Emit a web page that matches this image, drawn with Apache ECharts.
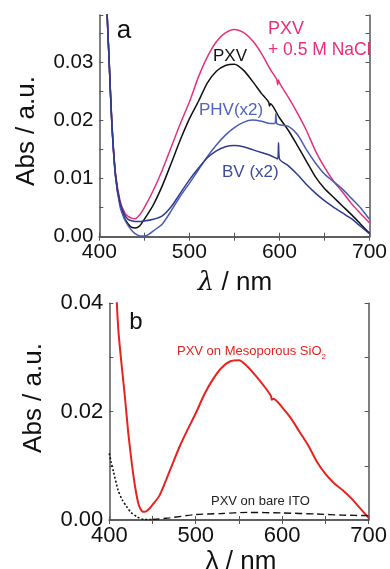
<!DOCTYPE html>
<html><head><meta charset="utf-8">
<script src="https://cdn.jsdelivr.net/npm/echarts@6/dist/echarts.min.js"></script>
<style>html,body{margin:0;padding:0;background:#fff}#c{width:390px;height:569px}</style>
</head><body><div id="c"></div>
<script>
// Panel a
const pxvNaClWl = [404,408,411,414,418,423,428,432,436,440,445,450,460,470,480,490,500,510,520,530,540,550,560,570,580,590,597,598,599,600,610,620,630,640,650,660,670,680,690,700];
const pxvNaClAbs = [0.06,0.041,0.030,0.0195,0.011,0.0062,0.0042,0.0035,0.0032,0.0031,0.0038,0.005,0.008,0.0115,0.0155,0.0195,0.0232,0.0275,0.031,0.0336,0.0351,0.0357,0.0352,0.0338,0.0316,0.0288,0.0271,0.0262,0.027,0.0265,0.024,0.0213,0.0183,0.0148,0.012,0.0096,0.0077,0.0057,0.004,0.0024];
const pxvWl = [404,408,411,414,418,423,428,432,436,440,445,450,460,470,480,490,500,510,520,530,540,550,560,570,580,588,589,590,600,610,620,630,640,650,660,670,680,690,700];
const pxvAbs = [0.06,0.041,0.030,0.0195,0.0105,0.0056,0.0032,0.0022,0.0016,0.0015,0.0019,0.003,0.0055,0.0088,0.0127,0.0167,0.0203,0.0233,0.0265,0.0285,0.0295,0.0297,0.0287,0.0268,0.0247,0.0232,0.0225,0.0229,0.0205,0.0183,0.0157,0.013,0.0103,0.0083,0.0068,0.0053,0.0038,0.0022,0.0006];
const phvWl = [404,408,411,414,418,423,428,432,437,442,446,450,455,460,470,480,490,500,510,520,530,540,550,560,570,580,590,595,596,597,600,610,620,630,640,650,660,670,680,690,700];
const phvAbs = [0.06,0.041,0.030,0.0192,0.0103,0.0052,0.003,0.0019,0.0009,0.0003,0.0001,0.0001,0.0004,0.001,0.0022,0.0045,0.007,0.0092,0.0115,0.0138,0.0158,0.0175,0.0188,0.0197,0.0201,0.0199,0.0195,0.0195,0.0212,0.0195,0.0193,0.019,0.0176,0.015,0.0127,0.0108,0.0095,0.0082,0.0066,0.005,0.003];
const bvWl = [404,408,411,414,418,423,428,432,437,442,450,460,470,480,490,500,510,520,530,540,550,560,570,580,590,598,599,600,610,620,630,640,650,660,670,680,690,700];
const bvAbs = [0.06,0.041,0.030,0.0192,0.0106,0.0058,0.0038,0.003,0.0027,0.0026,0.0027,0.003,0.0036,0.0052,0.0075,0.0098,0.0118,0.0136,0.0148,0.0155,0.0157,0.0155,0.015,0.0145,0.014,0.0134,0.0162,0.0134,0.0122,0.0107,0.009,0.0075,0.0062,0.0051,0.0041,0.0031,0.0018,0.0005];
// Panel b
const mesoWl = [405,408.5,410.5,414,418,422,426,430,434,438,441,445,450,458,466,474,482,490,500,510,520,530,540,550,560,570,580,587,588,590,600,610,620,630,640,650,660,670,680,690,700];
const mesoAbs = [0.06,0.041,0.035,0.029,0.0228,0.016,0.0105,0.006,0.0028,0.0016,0.0015,0.0019,0.0028,0.0045,0.0075,0.0107,0.0138,0.0165,0.0197,0.0232,0.026,0.0281,0.0293,0.0295,0.0283,0.0265,0.0245,0.0229,0.0222,0.0224,0.0208,0.0188,0.0163,0.0138,0.0108,0.0085,0.0068,0.0055,0.004,0.0022,0.0004];
const itoDotWl = [400,402,405,410,415,420,425,432,440,450];
const itoDotAbs = [0.0123,0.0108,0.0088,0.0056,0.0037,0.0025,0.0014,0.0006,0.0001,0.0001];
const itoDashWl = [450,470,500,530,560,600,640,670,700];
const itoDashAbs = [0.0001,0.0004,0.001,0.0012,0.0014,0.0013,0.0011,0.0009,0.0008];

const xTicks = [400,500,600,700];
const yTicksA = ['0.00','0.01','0.02','0.03'];
const yTicksB = ['0.00','0.02','0.04'];

const pair = (xs, ys) => xs.map((x,i)=>[x, ys[i]]);
const FONT = 'Liberation Sans';
const frame = {lineStyle:{color:'#555', width:1.5}};

function xAx(grid, pos, showLabels, fs) {
  return {type:'value', gridIndex:grid, position:pos, min:400, max:700, interval:50,
    axisLine:{show:true, ...frame}, splitLine:{show:false},
    axisTick:{show:true, inside:true, length:4, lineStyle:{color:'#555', width:1}},
    axisLabel:{show:showLabels, fontFamily:FONT, fontSize:fs, color:'#111', margin:5,
      formatter: v => xTicks.includes(Math.round(v)) ? String(Math.round(v)) : ''}};
}
function yAx(grid, pos, max, step, showLabels, labels, fs) {
  return {type:'value', gridIndex:grid, position:pos, min:0, max:max, interval:step,
    axisLine:{show:true, ...frame}, splitLine:{show:false},
    axisTick:{show:true, inside:true, length:4, lineStyle:{color:'#555', width:1}},
    axisLabel:{show:showLabels, fontFamily:FONT, fontSize:fs, color:'#111', margin:6,
      showMaxLabel:true,
      formatter: v => { const s = v.toFixed(2); return (labels.includes(s) && Math.abs(v - parseFloat(s)) < 1e-6) ? s : ''; }}};
}
const line = (name, data, color, xi, yi, w, dash) => ({
  name, type:'line', data, xAxisIndex:xi, yAxisIndex:yi, showSymbol:false, symbol:'none',
  smooth:0.25, clip:true, lineStyle:{color, width:w, type: dash || 'solid'}, z:3});

const chart = echarts.init(document.getElementById('c'), null, {renderer:'canvas'});
chart.setOption({
  animation:false,
  grid:[
    {left:99.3, right:17.7, top:15, height:221.7},
    {left:109.3, right:21, top:303.3, height:216.7}
  ],
  xAxis:[ xAx(0,'bottom',true,21), xAx(0,'top',false,21), xAx(1,'bottom',true,22), xAx(1,'top',false,22) ],
  yAxis:[ yAx(0,'left',0.0382,0.005,true,yTicksA,20.5), yAx(0,'right',0.0382,0.005,false,yTicksA,20),
          yAx(1,'left',0.04,0.01,true,yTicksB,22), yAx(1,'right',0.04,0.01,false,yTicksB,22) ],
  series:[
    line('PXV + 0.5 M NaCl', pair(pxvNaClWl, pxvNaClAbs), '#e8307a', 0, 0, 1.5),
    line('PXV', pair(pxvWl, pxvAbs), '#111111', 0, 0, 1.5),
    line('PHV(x2)', pair(phvWl, phvAbs), '#4a5cb4', 0, 0, 1.5),
    line('BV (x2)', pair(bvWl, bvAbs), '#2f3b8f', 0, 0, 1.5),
    line('PXV on Mesoporous SiO2', pair(mesoWl, mesoAbs), '#e8231f', 2, 2, 2),
    line('PXV on bare ITO', pair(itoDotWl, itoDotAbs), '#111111', 2, 2, 1.6, [2,2]),
    line('PXV on bare ITO ', pair(itoDashWl, itoDashAbs), '#111111', 2, 2, 1.4, [7,4])
  ],
  graphic:[
    {type:'text', x:27, y:131, rotation:Math.PI/2, style:{text:'Abs / a.u.', font:'26px "Liberation Sans"', fill:'#111', textAlign:'center', textVerticalAlign:'middle'}},
    {type:'text', x:235, y:283, style:{text:'{l|λ} / nm', font:'26px "Liberation Sans"', fill:'#111', textAlign:'center', textVerticalAlign:'middle',
      rich:{l:{fontFamily:'DejaVu Serif', fontStyle:'italic', fontSize:26, fill:'#111'}}}},
    {type:'text', x:34, y:398, rotation:Math.PI/2, style:{text:'Abs / a.u.', font:'26px "Liberation Sans"', fill:'#111', textAlign:'center', textVerticalAlign:'middle'}},
    {type:'text', x:241, y:562, style:{text:'λ / nm', font:'26px "Liberation Sans"', fill:'#111', textAlign:'center', textVerticalAlign:'middle'}},
    {type:'text', x:124, y:31, style:{text:'a', font:'26px "Liberation Sans"', fill:'#111', textAlign:'center', textVerticalAlign:'middle'}},
    {type:'text', x:136, y:322, style:{text:'b', font:'24px "Liberation Sans"', fill:'#111', textAlign:'center', textVerticalAlign:'middle'}},
    {type:'text', x:268, y:29, style:{text:'PXV', font:'18px "Liberation Sans"', fill:'#e8307a', textVerticalAlign:'middle'}},
    {type:'text', x:268, y:50, style:{text:'+ 0.5 M NaCl', font:'17.5px "Liberation Sans"', fill:'#e8307a', textVerticalAlign:'middle'}},
    {type:'text', x:213, y:56, style:{text:'PXV', font:'17px "Liberation Sans"', fill:'#111', textVerticalAlign:'middle'}},
    {type:'text', x:199, y:110, style:{text:'PHV(x2)', font:'17px "Liberation Sans"', fill:'#5163bd', textVerticalAlign:'middle'}},
    {type:'text', x:222, y:172.5, style:{text:'BV (x2)', font:'17px "Liberation Sans"', fill:'#3d4c9e', textVerticalAlign:'middle'}},
    {type:'text', x:177, y:350.5, style:{text:'{n|PXV on Mesoporous SiO}{s|2}', textVerticalAlign:'middle',
      rich:{n:{fontFamily:'Liberation Sans', fontSize:13, fill:'#e8231f', verticalAlign:'bottom', lineHeight:14},
            s:{fontFamily:'Liberation Sans', fontSize:8, fill:'#e8231f', verticalAlign:'bottom', lineHeight:8, padding:[0,0,-3,0]}}}},
    {type:'text', x:211, y:501, style:{text:'PXV on bare ITO', font:'13px "Liberation Sans"', fill:'#222', textVerticalAlign:'middle'}}
  ]
});
</script></body></html>
